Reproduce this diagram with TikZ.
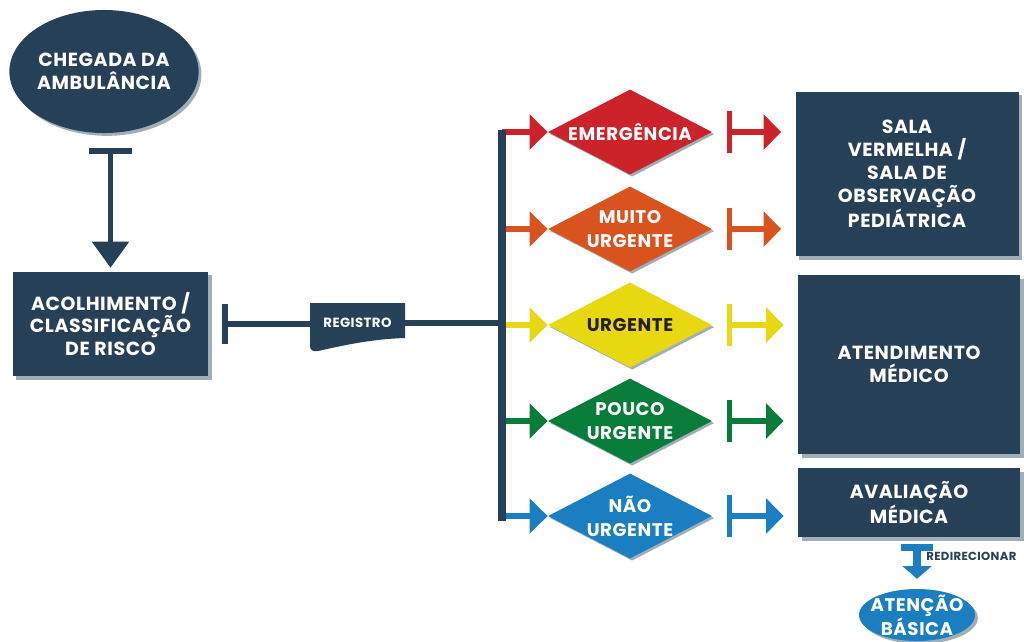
\documentclass[tikz,border=0pt]{standalone}
\usepackage{fontspec}
\setmainfont{Poppins}[LetterSpace=3]
\usetikzlibrary{arrows.meta,shapes.geometric,shadows}
\definecolor{marinho}{RGB}{38,64,87}
\definecolor{sombra}{RGB}{160,174,184}
\definecolor{vermelho}{RGB}{204,34,41}
\definecolor{laranja}{RGB}{217,83,30}
\definecolor{amarelo}{RGB}{232,216,18}
\definecolor{verde}{RGB}{8,125,58}
\definecolor{azul}{RGB}{26,126,193}
\definecolor{preto}{RGB}{35,31,32}
\begin{document}
\begin{tikzpicture}[x=0.025cm, y=-0.025cm]
	\tikzset{caixa/.style={rectangle, fill=marinho, text=white, align=center, inner sep=0pt,
			font=\bfseries\fontsize{13.5}{16.3}\selectfont,
			drop shadow={shadow xshift=2.5pt, shadow yshift=-2.5pt, fill=sombra, opacity=1}},
		bolha/.style={ellipse, fill=#1, text=white, align=center, inner sep=0pt,
			font=\bfseries\fontsize{13.5}{16.3}\selectfont,
			drop shadow={shadow xshift=2pt, shadow yshift=-2pt, fill=sombra, opacity=1}},
		losango/.style={diamond, fill=#1, minimum width=116.7pt, minimum height=60.5pt, inner sep=0pt,
			drop shadow={shadow xshift=1.5pt, shadow yshift=-1.5pt, fill=sombra, opacity=1}},
		rotulo/.style={align=center, inner sep=0pt, font=\bfseries\fontsize{13}{17}\selectfont},
		linha/.style={line width=#1, draw=marinho},
		seta/.style={line width=4.3pt, draw=#1, -{Triangle[width=24.2pt, length=12.8pt]}},
		tseta/.style={line width=3.6pt, draw=#1, {Bar[width=29.9pt]}-{Triangle[width=24.5pt, length=12.5pt]},
			shorten <=10.3pt, shorten >=10pt}}

	\useasboundingbox (0,0) rectangle (1024,641);

	\node[bolha=marinho, minimum width=130.2pt, minimum height=87.5pt] (chegada) at (104,71.5) {CHEGADA DA\\AMBULÂNCIA};
	\node[caixa, minimum width=138.7pt, minimum height=74pt] (acolh) at (110.5,324) {ACOLHIMENTO /\\CLASSIFICAÇÃO\\DE RISCO};

	\node[caixa, minimum width=158.6pt, minimum height=116.7pt] (sala) at (907,174) {SALA\\VERMELHA /\\SALA DE\\OBSERVAÇÃO\\PEDIÁTRICA};
	\node[caixa, minimum width=157.9pt, minimum height=127.3pt] (atend) at (909,364.5) {ATENDIMENTO\\MÉDICO};
	\node[caixa, minimum width=157.9pt, minimum height=49.1pt] (aval) at (909,502.5) {AVALIAÇÃO\\MÉDICA};
	\node[bolha=azul, inner xsep=-4pt, inner ysep=-2pt, minimum width=82.5pt, minimum height=37pt,
		font=\bfseries\fontsize{13}{15}\selectfont] (basica) at (917,615) {ATENÇÃO\\BÁSICA};

	\fill[marinho] (310,303) -- (405,303) -- (405,338) .. controls (372,339) and (345,345) .. (318,351)
		.. controls (313,352) and (310,350) .. (310,346) -- cycle;
	\node[text=white, inner sep=0pt, minimum width=67.6pt, font=\bfseries\fontsize{9.5}{11}\selectfont] (reg) at (357.5,323) {REGISTRO};

	\coordinate (topo) at (502,130);
	\coordinate (base) at (502,521);

	\foreach \i/\y/\cor/\cl/\cx/\txt in {1/132/vermelho/white/sala/EMERGÊNCIA,
			2/229/laranja/white/sala/{MUITO\\URGENTE}, 3/325/amarelo/preto/atend/URGENTE,
			4/421/verde/white/atend/{POUCO\\URGENTE}, 5/516/azul/white/aval/{NÃO\\URGENTE}} {
		\node[losango=\cor] (d\i) at (630,\y) {};
		\node[rotulo, text=\cl] (t\i) at (d\i) {\txt};
		\draw[seta=\cor] (d\i.west -| topo) -- (d\i.west);
		\draw[tseta=\cor] (d\i.east) -- (d\i.east -| \cx.west);
	}

	\draw[linha=5pt] (topo) -- (base);
	\draw[linha=4.3pt] (reg.east) -- (reg.east -| topo);
	\draw[linha=4.3pt, {Bar[width=28.5pt]}-, shorten <=9.6pt] (acolh.east) -- (acolh.east -| reg.west);
	\draw[linha=3.8pt, {Bar[width=30.6pt]}-{Triangle[width=25.6pt, length=18.5pt]}, shorten <=10.7pt, shorten >=2.8pt]
		(chegada.south -| acolh.north) -- (acolh.north);

	\draw[line width=5pt, draw=azul, {Bar[width=23pt]}-{Triangle[width=20pt, length=9pt]}, shorten <=5pt, shorten >=7pt]
		(basica.north |- aval.south) -- (basica.north);
	\node[anchor=west, text=marinho, inner sep=0pt, font=\bfseries\fontsize{8.3}{9}\selectfont] (redir) at (926,556) {REDIRECIONAR};
\end{tikzpicture}
\end{document}
